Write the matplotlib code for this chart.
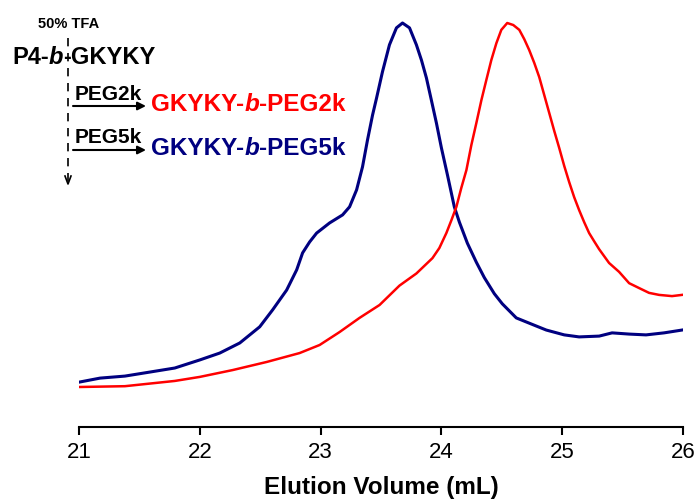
import numpy as np
import matplotlib
matplotlib.use('Agg')
import matplotlib.pyplot as plt

plt.rcParams['font.family'] = ['Liberation Sans', 'DejaVu Sans']

# --- data (elution volume mL, normalized intensity) ---
peg5k_vol = [21.000, 21.174, 21.380, 21.587, 21.793, 22.000, 22.165, 22.331, 22.496,
             22.603, 22.719, 22.802, 22.851, 22.909, 22.967, 23.074, 23.182, 23.240,
             23.298, 23.347, 23.388, 23.430, 23.463, 23.512, 23.570, 23.628, 23.678,
             23.736, 23.793, 23.835, 23.876, 23.917, 23.959, 24.000, 24.050, 24.107,
             24.149, 24.215, 24.289, 24.355, 24.438, 24.504, 24.620, 24.785, 24.868,
             25.017, 25.140, 25.306, 25.413, 25.554, 25.694, 25.843, 25.992]
peg5k_int = [0.111, 0.121, 0.126, 0.136, 0.146, 0.166, 0.183, 0.208, 0.248,
             0.290, 0.339, 0.389, 0.431, 0.458, 0.480, 0.505, 0.525, 0.545,
             0.587, 0.644, 0.710, 0.772, 0.814, 0.879, 0.946, 0.988, 1.000,
             0.988, 0.946, 0.908, 0.864, 0.809, 0.752, 0.691, 0.624, 0.545,
             0.507, 0.455, 0.408, 0.370, 0.330, 0.305, 0.270, 0.250, 0.240,
             0.228, 0.223, 0.225, 0.233, 0.230, 0.228, 0.233, 0.240]

peg2k_vol = [21.000, 21.380, 21.793, 22.000, 22.273, 22.554, 22.826, 22.992, 23.157,
             23.322, 23.488, 23.653, 23.793, 23.926, 23.983, 24.041, 24.083, 24.124,
             24.165, 24.207, 24.248, 24.289, 24.331, 24.372, 24.413, 24.455, 24.496,
             24.545, 24.595, 24.645, 24.686, 24.727, 24.769, 24.810, 24.851, 24.893,
             24.934, 24.975, 25.017, 25.058, 25.099, 25.140, 25.182, 25.223, 25.264,
             25.306, 25.388, 25.471, 25.554, 25.636, 25.719, 25.802, 25.909, 25.992]
peg2k_int = [0.099, 0.101, 0.114, 0.124, 0.141, 0.161, 0.183, 0.203, 0.235,
             0.270, 0.302, 0.350, 0.380, 0.418, 0.443, 0.480, 0.512, 0.545,
             0.592, 0.636, 0.698, 0.752, 0.809, 0.859, 0.908, 0.950, 0.983,
             1.000, 0.995, 0.983, 0.960, 0.933, 0.901, 0.866, 0.822, 0.777,
             0.733, 0.691, 0.646, 0.606, 0.569, 0.537, 0.507, 0.480, 0.460,
             0.440, 0.406, 0.384, 0.356, 0.344, 0.332, 0.327, 0.324, 0.327]

x_ticks = [21, 22, 23, 24, 25, 26]

RED = '#FF0000'
NAVY = '#000080'
W, H = 698, 504

fig = plt.figure(figsize=(W / 100, H / 100), dpi=100)
ax = fig.add_axes([79 / W, 1 - 427 / H, 604 / W, 417 / H])

ax.plot(peg5k_vol, peg5k_int, color=NAVY, lw=2.2)
ax.plot(peg2k_vol, peg2k_int, color=RED, lw=1.8)

ax.set_xlim(21, 26)
ax.set_ylim(0, 417 / 404)
ax.set_xticks(x_ticks)
ax.set_xticklabels([str(t) for t in x_ticks])
ax.set_yticks([])
for s in ['left', 'right', 'top']:
    ax.spines[s].set_visible(False)
ax.spines['bottom'].set_linewidth(1.5)
ax.tick_params(axis='x', direction='out', length=6, width=1.5, labelsize=16, pad=5)
ax.set_xlabel('Elution Volume (mL)', fontsize=17.5, fontweight='bold', labelpad=9)


def fx(px):
    return px / W


def fy(py):
    return 1 - py / H


def rich_text(x_px, y_px, parts, size, color):
    # 太字/斜体を混ぜたテキストを順番に並べる
    renderer = fig.canvas.get_renderer()
    x = x_px
    for txt, style in parts:
        t = fig.text(fx(x), fy(y_px), txt, fontsize=size, fontweight='bold',
                     fontstyle=style, color=color, va='baseline', ha='left')
        bb = t.get_window_extent(renderer)
        x += bb.width


fig.text(fx(38), fy(28), '50% TFA', fontsize=10.5, fontweight='bold', va='baseline')
rich_text(12, 64, [('P4-', 'normal'), ('b', 'italic'), ('-GKYKY', 'normal')], 17, 'black')

# dashed vertical arrow (TFA)
fig.add_artist(plt.Line2D([fx(68), fx(68)], [fy(38), fy(182)], color='black',
                          lw=1.2, ls=(0, (5, 4))))
fig.add_artist(plt.Line2D([fx(65), fx(68), fx(71)], [fy(176), fy(184), fy(176)],
                          color='black', lw=1.2))

# PEG arrows
for y_txt, y_arr, label in [(100, 106, 'PEG2k'), (143, 150, 'PEG5k')]:
    fig.text(fx(75), fy(y_txt), label, fontsize=15, fontweight='bold', va='baseline')
    ax.annotate('', xy=(fx(146), fy(y_arr)), xytext=(fx(73), fy(y_arr)),
                xycoords='figure fraction', textcoords='figure fraction',
                arrowprops=dict(arrowstyle='-|>', color='black', lw=1.5,
                                mutation_scale=12, shrinkA=0, shrinkB=0))

rich_text(151, 111, [('GKYKY-', 'normal'), ('b', 'italic'), ('-PEG2k', 'normal')], 17.5, RED)
rich_text(151, 155, [('GKYKY-', 'normal'), ('b', 'italic'), ('-PEG5k', 'normal')], 17.5, NAVY)

fig.savefig('out.png', dpi=100)
